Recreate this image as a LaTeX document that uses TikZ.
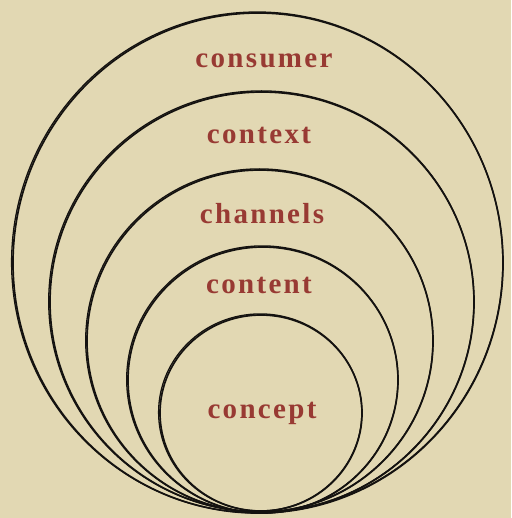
\documentclass[tikz,border=0pt]{standalone}
\usepackage{fontspec}
\setmainfont{Liberation Serif}
\usepackage{xcolor}
\usepackage{tikz}
\definecolor{parchment}{HTML}{E2D8B3}
\definecolor{rustred}{HTML}{983A33}
\definecolor{inkblack}{HTML}{141210}

\begin{document}
\begin{tikzpicture}[
    x=1pt, y=-1pt,
    ring/.style={draw=inkblack, line width=1.7pt},
    brush/.style={draw=inkblack, line width=1.3pt},
    layer/.style={text=rustred, inner sep=0pt,
        font=\fontsize{29}{33}\selectfont\bfseries\addfontfeature{LetterSpace=8}}
]
\fill[parchment] (0,0) rectangle (511,518);
\useasboundingbox (0,0) rectangle (511,518);

% rings, outer to inner, all touching at the bottom
\draw[ring] (258,263) ellipse [x radius=245, y radius=250];
\draw[brush] (257.2,262.4) ellipse [x radius=245.6, y radius=250.4];
\draw[ring] (262,302) ellipse [x radius=212, y radius=210];
\draw[brush] (261.3,301.4) ellipse [x radius=212.6, y radius=210.5];
\draw[ring] (260,341) ellipse [x radius=173, y radius=171];
\draw[brush] (259.3,340.4) ellipse [x radius=173.6, y radius=171.5];
\draw[ring] (263,380) ellipse [x radius=135, y radius=133];
\draw[brush] (262.3,379.4) ellipse [x radius=135.6, y radius=133.5];
\draw[ring] (261,413) ellipse [x radius=101, y radius=98];
\draw[brush] (260.2,412.4) ellipse [x radius=101.6, y radius=98.5];

% labels
\node[layer] (consumer) at (264,61) {consumer};
\node[layer] (context) at (259,135) {context};
\node[layer] (channels) at (262,214) {channels};
\node[layer] (content) at (259,285) {content};
\node[layer] (concept) at (262,413) {concept};
\end{tikzpicture}
\end{document}
